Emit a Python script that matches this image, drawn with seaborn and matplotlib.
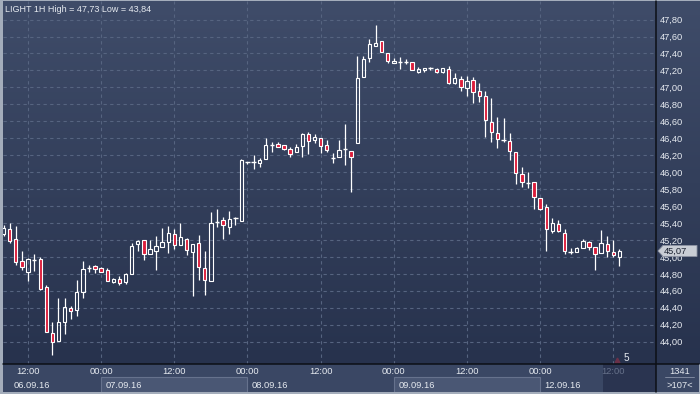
import numpy as np
import matplotlib
matplotlib.use("Agg")
import matplotlib.pyplot as plt
import seaborn as sns
from matplotlib.patches import Rectangle, Polygon
from matplotlib.lines import Line2D
from matplotlib.colors import LinearSegmentedColormap
import matplotlib.transforms as mtransforms

# ---------------- data ----------------
title = "LIGHT 1H High = 47,73 Low = 43,84"

opens = [45.27, 45.33, 45.21, 44.95, 44.82, 44.96, 44.97, 44.64, 44.10, 44.01,
         44.23, 44.40, 44.37, 44.59, 44.87, 44.89, 44.87, 44.85, 44.70, 44.74,
         44.70, 44.80, 45.15, 45.20, 45.03, 45.07, 45.12, 45.18, 45.27, 45.14,
         45.21, 45.06, 45.16, 44.87, 44.72, 45.41, 45.44, 45.35, 45.46, 45.42,
         46.12, 46.12, 46.11, 46.15, 46.32, 46.33, 46.32, 46.27, 46.24, 46.31,
         46.45, 46.38, 46.40, 46.32, 46.17, 46.18, 46.27, 46.25, 46.34, 47.12,
         47.35, 47.49, 47.55, 47.41, 47.29, 47.30, 47.30, 47.30, 47.18, 47.21,
         47.23, 47.22, 47.18, 47.22, 47.05, 47.10, 46.99, 47.09, 46.96, 46.90,
         46.59, 46.46, 46.38, 46.37, 46.24, 45.98, 45.87, 45.88, 45.69, 45.59,
         45.31, 45.39, 45.28, 45.06, 45.06, 45.10, 45.18, 45.12, 45.05, 45.15,
         45.06, 45.00]
highs = [45.38, 45.40, 45.36, 45.07, 44.99, 45.03, 45.00, 44.67, 44.23, 44.51,
         44.51, 44.42, 44.73, 44.95, 44.90, 44.90, 44.88, 44.87, 44.75, 44.77,
         44.81, 45.16, 45.20, 45.20, 45.20, 45.25, 45.34, 45.36, 45.33, 45.40,
         45.22, 45.15, 45.26, 45.07, 45.53, 45.56, 45.47, 45.54, 45.47, 46.15,
         46.12, 46.20, 46.17, 46.40, 46.36, 46.36, 46.32, 46.30, 46.33, 46.46,
         46.47, 46.45, 46.40, 46.38, 46.23, 46.38, 46.57, 46.25, 47.37, 47.37,
         47.57, 47.73, 47.55, 47.41, 47.35, 47.36, 47.33, 47.30, 47.24, 47.23,
         47.24, 47.23, 47.23, 47.25, 47.17, 47.13, 47.13, 47.12, 47.05, 46.96,
         46.87, 46.65, 46.64, 46.46, 46.24, 46.06, 46.00, 45.88, 45.69, 45.62,
         45.46, 45.44, 45.33, 45.10, 45.12, 45.21, 45.19, 45.12, 45.32, 45.25,
         45.20, 45.09]
lows = [45.25, 45.16, 44.90, 44.85, 44.72, 44.83, 44.61, 44.11, 43.84, 44.01,
        44.09, 44.27, 44.30, 44.51, 44.82, 44.81, 44.82, 44.72, 44.69, 44.67,
        44.68, 44.80, 45.07, 44.96, 45.03, 44.85, 45.12, 45.05, 45.09, 45.14,
        45.02, 44.54, 44.73, 44.55, 44.72, 45.35, 45.21, 45.27, 45.38, 45.42,
        46.10, 46.04, 46.06, 46.15, 46.24, 46.30, 46.26, 46.18, 46.24, 46.18,
        46.21, 46.34, 46.23, 46.24, 46.11, 46.18, 46.08, 45.77, 46.34, 47.12,
        47.30, 47.49, 47.42, 47.29, 47.29, 47.22, 47.28, 47.21, 47.17, 47.18,
        47.21, 47.17, 47.17, 47.04, 47.04, 46.96, 46.90, 46.82, 46.83, 46.41,
        46.36, 46.28, 46.36, 46.14, 45.86, 45.82, 45.81, 45.56, 45.55, 45.07,
        45.28, 45.29, 45.03, 45.03, 45.06, 45.10, 45.08, 44.85, 45.05, 45.00,
        45.00, 44.89]
closes = [45.34, 45.19, 44.94, 44.88, 44.97, 44.96, 44.62, 44.11, 44.00, 44.23,
          44.41, 44.36, 44.59, 44.86, 44.87, 44.86, 44.82, 44.72, 44.74, 44.69,
          44.80, 45.13, 45.19, 45.03, 45.09, 45.13, 45.18, 45.28, 45.14, 45.23,
          45.08, 45.15, 44.88, 44.73, 45.40, 45.41, 45.38, 45.45, 45.46, 46.14,
          46.12, 46.12, 46.14, 46.32, 46.32, 46.30, 46.27, 46.21, 46.30, 46.45,
          46.37, 46.41, 46.31, 46.26, 46.17, 46.26, 46.27, 46.18, 47.11, 47.33,
          47.51, 47.52, 47.42, 47.31, 47.31, 47.30, 47.30, 47.21, 47.22, 47.23,
          47.23, 47.18, 47.23, 47.05, 47.11, 47.00, 47.08, 46.95, 46.90, 46.62,
          46.47, 46.39, 46.38, 46.25, 45.99, 45.88, 45.87, 45.71, 45.56, 45.33,
          45.40, 45.31, 45.07, 45.06, 45.10, 45.19, 45.12, 45.03, 45.16, 45.07,
          45.02, 45.07]

price_ticks = [44.00, 44.20, 44.40, 44.60, 44.80, 45.00, 45.20, 45.40, 45.60, 45.80,
               46.00, 46.20, 46.40, 46.60, 46.80, 47.00, 47.20, 47.40, 47.60, 47.80]
time_tick_bars = [4, 16, 28, 40, 52, 64, 76, 88, 100]
time_tick_labels = ["12:00", "00:00", "12:00", "00:00", "12:00", "00:00", "12:00", "00:00", "12:00"]
day_start_bars = [0, 16, 40, 64, 88]
day_labels = ["06.09.16", "07.09.16", "08.09.16", "09.09.16", "12.09.16"]
last_price = 45.07
total_bars = "1341"
visible_bars = ">107<"
marker_label = "5"

# ---------------- style ----------------
sns.set_theme(style="dark")
plt.rcParams['font.family'] = ['Liberation Sans', 'DejaVu Sans']

W, H = 700, 394
FS = 6.7
TXT = '#e6eaf0'
RED = '#dc1e3c'
GRID = '#566480'

def fx(px):
    return px / W

def fy(py):
    return 1 - py / H

fig = plt.figure(figsize=(7, 3.94), dpi=100)
fig.patch.set_facecolor('#a4adbb')

cmap = LinearSegmentedColormap.from_list('bg', ['#27324d', '#3f4c69'])
grad = np.linspace(0, 1, 256).reshape(-1, 1)

# background for plot + right panel
bg = fig.add_axes([fx(3), fy(364), fx(700) - fx(3), fy(1) - fy(364)], zorder=0)
bg.imshow(grad, aspect='auto', cmap=cmap, origin='lower', extent=[0, 1, 0, 1])
bg.set_axis_off()

# main axes
ax = fig.add_axes([fx(3), fy(364), fx(656) - fx(3), fy(1) - fy(364)], zorder=2)
ax.patch.set_visible(False)
n = len(opens)
x = np.arange(n)
o = np.array(opens); h = np.array(highs); l = np.array(lows); c = np.array(closes)
ax.set_xlim(-0.1, 107.0)
ax.set_ylim(43.736, 48.019)

ax.set_yticks(price_ticks)
ax.set_yticklabels([f"{v:.2f}".replace('.', ',') for v in price_ticks])
ax.yaxis.tick_right()
ax.tick_params(axis='y', length=0, pad=3, labelsize=FS, labelcolor=TXT)
ax.set_xticks(time_tick_bars)
ax.tick_params(axis='x', length=0, labelbottom=False)
ax.grid(True, color=GRID, lw=0.8, ls=(0, (3, 3)))
for s in ax.spines.values():
    s.set_visible(False)

bw = 0.55
top = np.maximum(o, c)
bot = np.minimum(o, c)
ax.vlines(x, top, h, color='white', lw=0.9, zorder=3)
ax.vlines(x, l, bot, color='white', lw=0.9, zorder=3)
dn = c < o
up = c > o
fl = c == o
ax.bar(x[dn], (o - c)[dn], bottom=c[dn], width=bw, color=RED,
       edgecolor='white', lw=0.8, zorder=4)
ax.bar(x[up], (c - o)[up], bottom=o[up], width=bw, color='none',
       edgecolor='white', lw=0.8, zorder=4)
ax.hlines(c[fl], x[fl] - bw / 2 - 0.1, x[fl] + bw / 2 + 0.1, color='white', lw=1.0, zorder=4)

# marker near bottom right
trans_xa = mtransforms.blended_transform_factory(ax.transData, ax.transAxes)
ax.plot([x[-1] - 0.4], [0.012], marker='^', ms=3.5, color='#6a3048', transform=trans_xa,
        clip_on=False, zorder=5)
ax.text(x[-1] + 1.2, 0.003, marker_label, color=TXT, fontsize=FS + 0.5, ha='center',
        va='bottom', transform=trans_xa)

# title
fig.text(fx(5), fy(9), title, color=TXT, fontsize=FS - 0.2, ha='left', va='center')

# bottom time panel
bax = fig.add_axes([fx(3), fy(392), fx(656) - fx(3), fy(364) - fy(392)], zorder=1)
bax.set_facecolor('#3a4764')
bax.set_xlim(ax.get_xlim())
bax.set_ylim(0, 1)
bax.set_xticks([]); bax.set_yticks([])
for s in bax.spines.values():
    s.set_visible(False)
for i, (d0, lab) in enumerate(zip(day_start_bars, day_labels)):
    if i % 2 == 1:
        d1 = day_start_bars[i + 1] if i + 1 < len(day_start_bars) else 107
        bax.add_patch(Rectangle((d0, 0.0), d1 - d0, 0.52, facecolor='#4a5774',
                                edgecolor='#66728d', lw=0.8, zorder=1))
    xpos = d0 + 0.75 if d0 > 0 else d0 + 1.6
    bax.text(xpos, 0.25, lab, color=TXT, fontsize=FS, ha='left', va='center', zorder=3)
cur_start = time_tick_bars[-1] - 1.7
bax.add_patch(Rectangle((cur_start, 0), 107 - cur_start, 1, facecolor='#2a3450',
                        edgecolor='none', zorder=2))
for pos, lab in zip(time_tick_bars, time_tick_labels):
    col = '#66718a' if pos >= cur_start else TXT
    bax.text(pos, 0.72, lab, color=col, fontsize=FS, ha='center', va='center', zorder=3)

# bottom right corner box
cax = fig.add_axes([fx(656), fy(392), fx(699) - fx(656), fy(364) - fy(392)], zorder=1)
cax.set_facecolor('#3a4764')
cax.set_xlim(0, 1); cax.set_ylim(0, 1)
cax.set_xticks([]); cax.set_yticks([])
for s in cax.spines.values():
    s.set_visible(False)
cax.text(0.55, 0.72, total_bars, color=TXT, fontsize=FS, ha='center', va='center')
cax.plot([0.22, 0.88], [0.52, 0.52], color='#8892a8', lw=0.6)
cax.text(0.55, 0.25, visible_bars, color=TXT, fontsize=FS, ha='center', va='center')

# separators
fig.add_artist(Line2D([fx(656), fx(656)], [fy(392), fy(1)], color='#0c0f16', lw=1.1,
                      transform=fig.transFigure, zorder=6))
fig.add_artist(Line2D([fx(3), fx(699)], [fy(364), fy(364)], color='#0c0f16', lw=1.1,
                      transform=fig.transFigure, zorder=6))

# last price label
fig.canvas.draw()
ypix = ax.transData.transform((0, last_price))[1]
yf = ypix / H
dy = 5.5 / H
poly = Polygon([[fx(658), yf], [fx(663), yf + dy], [fx(697), yf + dy],
                [fx(697), yf - dy], [fx(663), yf - dy]], closed=True,
               facecolor='#c9cdd5', edgecolor='#8d93a3', lw=0.6,
               transform=fig.transFigure, zorder=7)
fig.add_artist(poly)
fig.text(fx(664), yf, f"{last_price:.2f}".replace('.', ','), color='#1c2231', fontsize=FS,
         ha='left', va='center', zorder=8)

fig.savefig("out.png", dpi=100, facecolor=fig.get_facecolor())
